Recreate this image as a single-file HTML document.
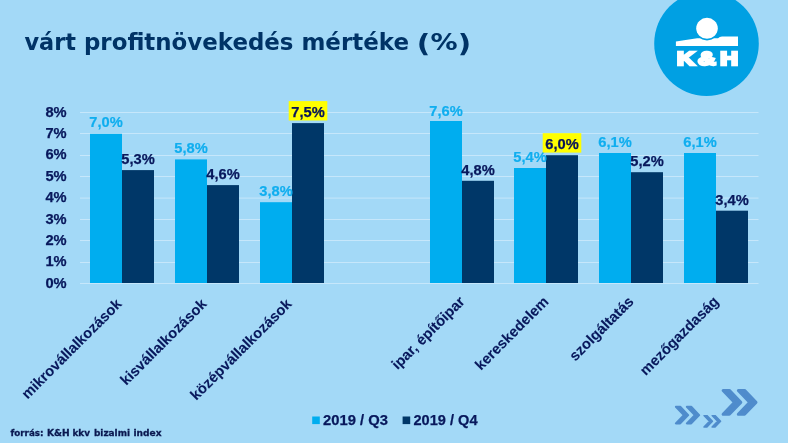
<!DOCTYPE html>
<html lang="hu"><head><meta charset="utf-8"><title>várt profitnövekedés mértéke (%)</title>
<style>
html,body{margin:0;padding:0;background:#a3d9f7;}
body{width:788px;height:443px;overflow:hidden;position:relative;font-family:"Liberation Sans",Arial,sans-serif;}
svg{position:absolute;left:0;top:0;display:block;}
.t{font-family:"DejaVu Sans",Verdana,sans-serif;font-weight:bold;font-size:23.5px;fill:#003366;}
.ax{font-family:"Liberation Sans",Arial,sans-serif;font-weight:bold;font-size:14.67px;fill:#08185c;stroke:#08185c;stroke-width:0.25px;}
.l1{font-family:"Liberation Sans",Arial,sans-serif;font-weight:bold;font-size:14.67px;fill:#10aeef;stroke:#10aeef;stroke-width:0.2px;}
.l2{font-family:"Liberation Sans",Arial,sans-serif;font-weight:bold;font-size:14.67px;fill:#08185c;stroke:#08185c;stroke-width:0.25px;}
.hl{font-family:"Liberation Sans",Arial,sans-serif;font-weight:bold;font-size:14.67px;fill:#08145a;stroke:#08145a;stroke-width:0.25px;}
.cat{font-family:"Liberation Sans",Arial,sans-serif;font-weight:bold;font-size:14.67px;fill:#08185c;stroke:#08185c;stroke-width:0.1px;}
.lg{font-family:"Liberation Sans",Arial,sans-serif;font-weight:bold;font-size:14.67px;fill:#08185c;stroke:#08185c;stroke-width:0.25px;}
.src{font-family:"DejaVu Sans",Verdana,sans-serif;font-weight:bold;font-size:9.33px;fill:#0a1850;stroke:#0a1850;stroke-width:0.3px;}
.logo{font-family:"Liberation Sans",Arial,sans-serif;font-weight:bold;font-size:17.6px;fill:#fff;stroke:#fff;stroke-width:2.3px;stroke-linejoin:miter;}
</style></head><body>
<svg width="788" height="443" viewBox="0 0 788 443">
<rect x="0" y="0" width="788" height="443" fill="#a3d9f7"/>
<text class="t" x="24.50" y="49.6" textLength="51.52" lengthAdjust="spacingAndGlyphs">várt</text>
<text class="t" x="83.98" y="49.6" textLength="209.53" lengthAdjust="spacingAndGlyphs">profitnövekedés</text>
<text class="t" x="301.45" y="49.6" textLength="107.58" lengthAdjust="spacingAndGlyphs">mértéke</text>
<text class="t" style="font-size:25.5px" x="416.70" y="51.5" textLength="13.60" lengthAdjust="spacingAndGlyphs">(</text>
<text class="t" x="430.45" y="49.6" textLength="27.12" lengthAdjust="spacingAndGlyphs">%</text>
<text class="t" style="font-size:25.5px" x="457.70" y="51.5" textLength="13.40" lengthAdjust="spacingAndGlyphs">)</text>
<g>
<circle cx="706.5" cy="43.6" r="52.3" fill="#00a0e3"/>
<path d="M675.9 45.9 L675.9 41.4 L684 40.2 L697.1 38.2 L718 38.2 Q719.5 36.6 722 36.4 L738 36.4 L738 45.9 Z" fill="#fff"/>
<circle cx="707" cy="28.3" r="12.1" fill="#00a0e3"/>
<ellipse cx="707" cy="28.35" rx="10.8" ry="10.5" fill="#fff"/>
<text class="logo" transform="translate(676.9 64.6) scale(1.4 1)" x="0 15.0 31.0" y="0">K&amp;H</text>
</g>
<rect x="80" y="283.0" width="678.5" height="1" fill="#c6e7fb"/>
<text class="ax" x="66.6" y="287.6" text-anchor="end">0%</text>
<rect x="80" y="262.0" width="678.5" height="1" fill="#c6e7fb"/>
<text class="ax" x="66.6" y="266.2" text-anchor="end">1%</text>
<rect x="80" y="240.0" width="678.5" height="1" fill="#c6e7fb"/>
<text class="ax" x="66.6" y="244.8" text-anchor="end">2%</text>
<rect x="80" y="219.0" width="678.5" height="1" fill="#c6e7fb"/>
<text class="ax" x="66.6" y="223.5" text-anchor="end">3%</text>
<rect x="80" y="197.6" width="678.5" height="1" fill="#c6e7fb"/>
<text class="ax" x="66.6" y="202.1" text-anchor="end">4%</text>
<rect x="80" y="176.0" width="678.5" height="1" fill="#c6e7fb"/>
<text class="ax" x="66.6" y="180.7" text-anchor="end">5%</text>
<rect x="80" y="155.0" width="678.5" height="1" fill="#c6e7fb"/>
<text class="ax" x="66.6" y="159.3" text-anchor="end">6%</text>
<rect x="80" y="133.0" width="678.5" height="1" fill="#c6e7fb"/>
<text class="ax" x="66.6" y="138.0" text-anchor="end">7%</text>
<rect x="80" y="112.0" width="678.5" height="1" fill="#c6e7fb"/>
<text class="ax" x="66.6" y="116.6" text-anchor="end">8%</text>
<rect x="90" y="133.8" width="32" height="149.2" fill="#00adef"/>
<rect x="122" y="170.1" width="32" height="112.9" fill="#003768"/>
<rect x="175" y="159.4" width="32" height="123.6" fill="#00adef"/>
<rect x="207" y="185.1" width="32" height="97.9" fill="#003768"/>
<rect x="260" y="202.2" width="32" height="80.8" fill="#00adef"/>
<rect x="292" y="123.1" width="32" height="159.9" fill="#003768"/>
<rect x="430" y="121.0" width="32" height="162.0" fill="#00adef"/>
<rect x="462" y="180.8" width="32" height="102.2" fill="#003768"/>
<rect x="514" y="168.0" width="32" height="115.0" fill="#00adef"/>
<rect x="546" y="155.2" width="32" height="127.8" fill="#003768"/>
<rect x="599" y="153.0" width="32" height="130.0" fill="#00adef"/>
<rect x="631" y="172.2" width="32" height="110.8" fill="#003768"/>
<rect x="684" y="153.0" width="32" height="130.0" fill="#00adef"/>
<rect x="716" y="210.7" width="32" height="72.3" fill="#003768"/>
<text class="l1" x="106.0" y="127.4" text-anchor="middle">7,0%</text>
<text class="l2" x="138.0" y="163.9" text-anchor="middle">5,3%</text>
<text class="cat" transform="translate(122.5 304.8) rotate(-45)" text-anchor="end" x="0" y="0">mikrovállalkozások</text>
<text class="l1" x="191.0" y="153.0" text-anchor="middle">5,8%</text>
<text class="l2" x="223.0" y="178.9" text-anchor="middle">4,6%</text>
<text class="cat" transform="translate(207.5 304.8) rotate(-45)" text-anchor="end" x="0" y="0">kisvállalkozások</text>
<text class="l1" x="276.0" y="195.8" text-anchor="middle">3,8%</text>
<rect x="288.7" y="101.1" width="38.6" height="19.4" fill="#ffff00"/>
<text class="hl" x="308.0" y="116.9" text-anchor="middle">7,5%</text>
<text class="cat" transform="translate(292.5 304.8) rotate(-45)" text-anchor="end" x="0" y="0">középvállalkozások</text>
<text class="l1" x="446.0" y="115.6" text-anchor="middle">7,6%</text>
<text class="l2" x="478.0" y="174.6" text-anchor="middle">4,8%</text>
<text class="cat" transform="translate(465.5 302.4) rotate(-45)" text-anchor="end" x="0" y="0">ipar, építőipar</text>
<text class="l1" x="530.0" y="161.6" text-anchor="middle">5,4%</text>
<rect x="542.7" y="133.2" width="38.6" height="19.4" fill="#ffff00"/>
<text class="hl" x="562.0" y="149.0" text-anchor="middle">6,0%</text>
<text class="cat" transform="translate(549.5 302.4) rotate(-45)" text-anchor="end" x="0" y="0">kereskedelem</text>
<text class="l1" x="615.0" y="146.6" text-anchor="middle">6,1%</text>
<text class="l2" x="647.0" y="166.0" text-anchor="middle">5,2%</text>
<text class="cat" transform="translate(634.5 302.4) rotate(-45)" text-anchor="end" x="0" y="0">szolgáltatás</text>
<text class="l1" x="700.0" y="146.6" text-anchor="middle">6,1%</text>
<text class="l2" x="732.0" y="204.5" text-anchor="middle">3,4%</text>
<text class="cat" transform="translate(719.5 302.4) rotate(-45)" text-anchor="end" x="0" y="0">mezőgazdaság</text>
<rect x="312.2" y="416.5" width="7.6" height="7.6" fill="#00adef"/>
<text class="lg" x="322.99" y="424.7" textLength="65.03" lengthAdjust="spacingAndGlyphs">2019 / Q3</text>
<rect x="402.6" y="416.5" width="7.6" height="7.6" fill="#003768"/>
<text class="lg" x="413.49" y="424.7" textLength="64.02" lengthAdjust="spacingAndGlyphs">2019 / Q4</text>
<text class="src" x="10.49" y="435.8" textLength="33.02" lengthAdjust="spacingAndGlyphs">forrás:</text>
<text class="src" x="46.89" y="435.8" textLength="22.68" lengthAdjust="spacingAndGlyphs">K&amp;H</text>
<text class="src" x="72.44" y="435.8" textLength="17.56" lengthAdjust="spacingAndGlyphs">kkv</text>
<text class="src" x="93.98" y="435.8" textLength="36.07" lengthAdjust="spacingAndGlyphs">bizalmi</text>
<text class="src" x="133.45" y="435.8" textLength="28.09" lengthAdjust="spacingAndGlyphs">index</text>
<g fill="#4f8ccc" stroke="#4f8ccc" stroke-linejoin="round">
<path d="M723.12 390.40 L734.59 402.35 L723.12 414.30 L729.32 414.30 L740.79 402.35 L729.32 390.40 Z" stroke-width="3.00"/><path d="M738.32 390.40 L749.79 402.35 L738.32 414.30 L744.52 414.30 L755.99 402.35 L744.52 390.40 Z" stroke-width="3.00"/>
<path d="M675.85 406.80 L683.81 415.10 L675.85 423.40 L680.23 423.40 L688.20 415.10 L680.23 406.80 Z" stroke-width="2.00"/><path d="M686.82 406.80 L694.79 415.10 L686.82 423.40 L691.21 423.40 L699.18 415.10 L691.21 406.80 Z" stroke-width="2.00"/>
<path d="M703.94 415.60 L709.46 421.35 L703.94 427.10 L706.97 427.10 L712.49 421.35 L706.97 415.60 Z" stroke-width="1.40"/><path d="M712.07 415.60 L717.59 421.35 L712.07 427.10 L715.10 427.10 L720.62 421.35 L715.10 415.60 Z" stroke-width="1.40"/>
</g>
</svg>
</body></html>
